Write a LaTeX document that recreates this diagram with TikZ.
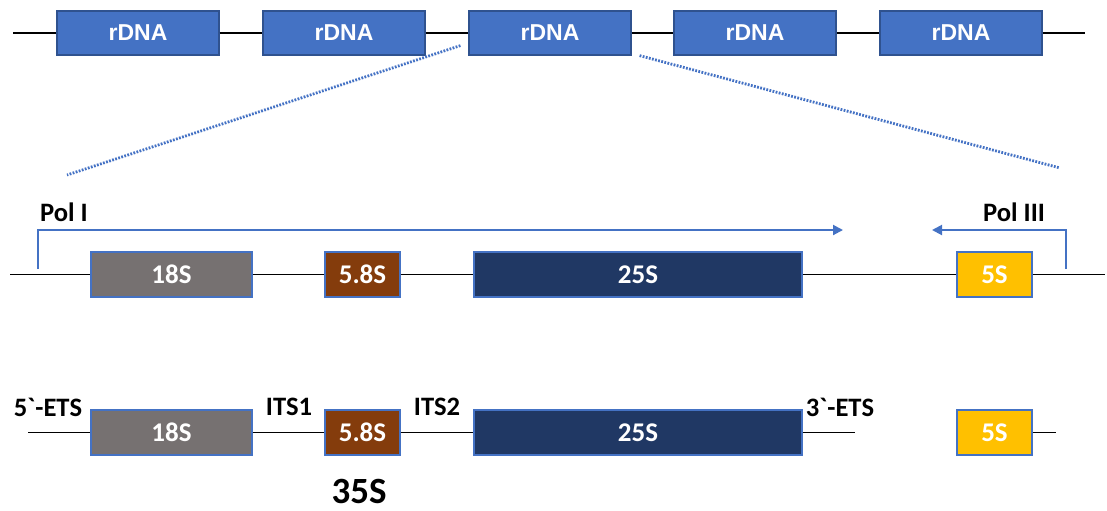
\documentclass[tikz,border=0pt]{standalone}
\usepackage{fontspec}
\setmainfont{Carlito}
\newfontfamily\repfont{Liberation Sans}
\usetikzlibrary{arrows.meta,positioning}

\definecolor{rblue}{HTML}{4472C4}
\definecolor{rborder}{HTML}{2F528F}
\definecolor{r18}{HTML}{767171}
\definecolor{r58}{HTML}{843C0C}
\definecolor{r25}{HTML}{203864}
\definecolor{r5}{HTML}{FFC000}

\tikzset{
  gene/.style={draw=rblue, line width=0.6pt, text=white,
    font=\bfseries\fontsize{13.5}{16}\selectfont,
    minimum height=22.5pt, inner sep=0pt},
  repeatbox/.style={gene, draw=rborder, fill=rblue, minimum width=81pt, minimum height=22pt,
    font=\repfont\bfseries\fontsize{11.5}{14}\selectfont},
  dna/.style={black, line width=0.75pt},
  zoomline/.style={rblue, line width=1.4pt, dash pattern=on 0.9pt off 0.7pt},
  polarrow/.style={rblue, line width=1pt, -{Triangle[length=5pt,width=5pt]}},
  tag/.style={font=\bfseries\fontsize{13.3}{16}\selectfont, inner sep=0pt}
}

\begin{document}
\begin{tikzpicture}[x=0.5pt,y=-0.5pt]
  \useasboundingbox (0,0) rectangle (1107,510);

  % tandem rDNA repeats on the chromosome
  \foreach \i/\x in {1/138,2/344,3/550,4/755,5/961}
    \node[repeatbox] (r\i) at (\x,33) {rDNA};
  \coordinate (ta) at (13,33);
  \coordinate (tb) at (1085,33);
  \draw[dna] (ta) -- (r1) (r1) -- (r2) (r2) -- (r3) (r3) -- (r4) (r4) -- (r5) (r5) -- (tb);

  % zoom into the third repeat
  \coordinate (zl) at (67,175);
  \coordinate (zr) at (1060,168);
  \draw[zoomline] (r3.south west) ++(-8,-10) -- (zl);
  \draw[zoomline] (r3.south east) ++(8,0) -- (zr);

  % one repeat unit
  \node[gene, fill=r18, minimum width=80.5pt] (s18) at (171.5,274.5) {18S};
  \node[gene, fill=r58, minimum width=37.5pt] (s58) at (362.5,274.5) {5.8S};
  \node[gene, fill=r25, minimum width=164pt] (s25) at (638,274.5) {25S};
  \node[gene, fill=r5, minimum width=37.5pt] (s5) at (994.5,274.5) {5S};
  \coordinate (ma) at (10,274.5);
  \coordinate (mb) at (1105,274.5);
  \draw[dna] (ma) -- (s18) (s18) -- (s58) (s58) -- (s25) (s25) -- (s5) (s5) -- (mb);

  % promoters and direction of transcription
  \coordinate (p1) at (38,269);
  \coordinate (e1) at (843,230);
  \coordinate (p3) at (1066,269);
  \coordinate (e3) at (932,230);
  \draw[polarrow] (p1) |- (e1);
  \draw[polarrow] (p3) |- (e3);
  \node[tag] (pol1) at (64,212) {Pol I};
  \node[tag] (pol3) at (1014,212) {Pol III};

  % transcripts
  \node[gene, fill=r18, minimum width=80.5pt] (t18) at (171.5,432.5) {18S};
  \node[gene, fill=r58, minimum width=37.5pt] (t58) at (362.5,432.5) {5.8S};
  \node[gene, fill=r25, minimum width=164pt] (t25) at (638,432.5) {25S};
  \node[gene, fill=r5, minimum width=37.5pt] (t5) at (994.5,432.5) {5S};
  \coordinate (ba) at (28,432.5);
  \coordinate (bb) at (855,432.5);
  \coordinate (bc) at (1056,432.5);
  \draw[dna] (ba) -- (t18) (t18) -- (t58) (t58) -- (t25) (t25) -- (bb);
  \draw[dna] (t5) -- (bc);

  % spacer labels
  \node[tag] (ets5) at (48,407) {5\textasciigrave-ETS};
  \node[tag] (its1) at (289,407) {ITS1};
  \node[tag] (its2) at (437,407) {ITS2};
  \node[tag] (ets3) at (840,407) {3\textasciigrave-ETS};
  \node[tag, font=\bfseries\fontsize{18.5}{22}\selectfont] (pre) at (359,491) {35S};
\end{tikzpicture}
\end{document}
